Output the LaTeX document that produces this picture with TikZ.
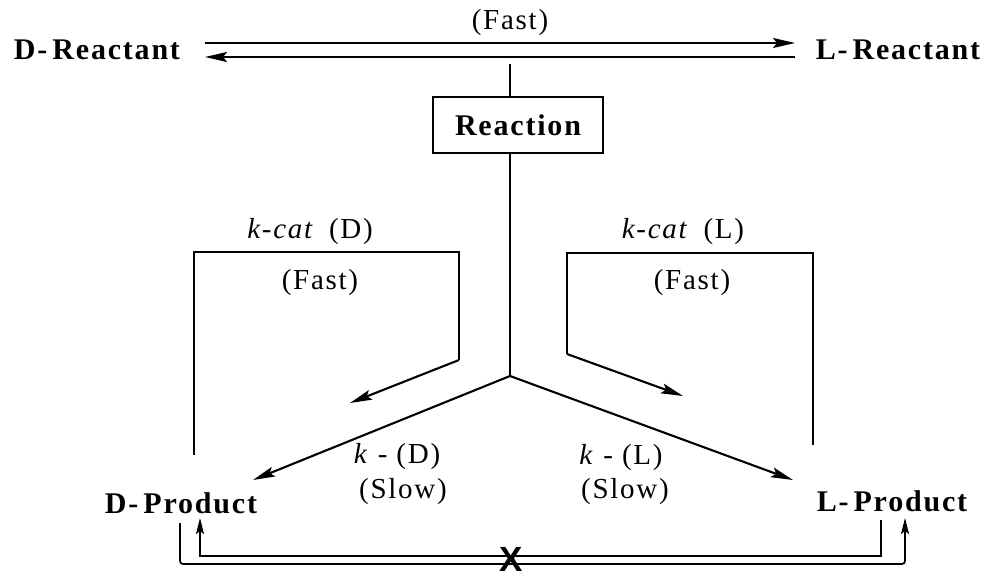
\documentclass[tikz,border=0pt]{standalone}
\usepackage{fontspec}
\setmainfont{Liberation Serif}[LetterSpace=6]
\newfontfamily\crossfont{Liberation Sans}
\usetikzlibrary{arrows.meta}
\begin{document}
\begin{tikzpicture}[x=1pt, y=-1pt,
  species/.style = {font=\fontsize{30}{32}\selectfont\bfseries, inner sep=0pt},
  rate/.style = {font=\fontsize{29}{31}\selectfont, inner sep=0pt},
  flow/.style = {line width=2.1pt, -{Stealth[length=22pt, width=10pt, inset=4pt]}},
  wire/.style = {line width=1.7pt}]
  \useasboundingbox (0,0) rectangle (992,577);
  % species
  \node (dreact) at (97,50) [species] {D-\,Reactant};
  \node (lreact) at (898,50) [species] {L-\,Reactant};
  \node (dprod) at (181,503) [species] {D-\,Product};
  \node (lprod) at (892,501) [species] {L-\,Product};
  \node (react) at (518,125) [draw, wire, species, minimum width=170pt, minimum height=56pt] {Reaction};
  % rate labels
  \node (fasttop) at (510,23) [rate] {(Fast)};
  \node (kcatd) at (310,232) [rate] {\textit{k-cat}\enspace(D)};
  \node (fastd) at (320,283) [rate] {(Fast)};
  \node (kcatl) at (683,232) [rate] {\textit{k-cat}\enspace(L)};
  \node (fastl) at (692,283) [rate] {(Fast)};
  \node (kd) at (397,457) [rate] {\textit{k} - (D)};
  \node (slowd) at (403,492) [rate] {(Slow)};
  \node (kl) at (621,458) [rate] {\textit{k} - (L)};
  \node (slowl) at (625,492) [rate] {(Slow)};
  \node (cross) at (511,559) [font=\crossfont\fontsize{35}{35}\selectfont\bfseries, inner sep=0pt] {X};
  % racemisation
  \coordinate (fwda) at (205,43);
  \coordinate (fwdb) at (795,43);
  \coordinate (bcka) at (795,57);
  \coordinate (bckb) at (205,57);
  \draw[flow] (fwda) -- (fwdb);
  \draw[flow] (bcka) -- (bckb);
  % trunk
  \coordinate (split) at (510,64);
  \coordinate (jn) at (510,376);
  \draw[wire] (split) -- (split |- react.north);
  \draw[wire] (react.south -| jn) -- (jn);
  \coordinate (dtip) at (253,480);
  \coordinate (ltip) at (793,480);
  \draw[flow] (jn) -- (dtip);
  \draw[flow] (jn) -- (ltip);
  % catalysed loops
  \coordinate (dloop) at (194,455);
  \coordinate (dbend) at (459,360);
  \coordinate (dcat) at (350,403);
  \draw[wire] (dloop) |- (dbend |- 0,252) -- (dbend);
  \draw[flow] (dbend) -- (dcat);
  \coordinate (lloop) at (813,445);
  \coordinate (lbend) at (567,354);
  \coordinate (lcat) at (683,396);
  \draw[wire] (lloop) |- (lbend |- 0,253) -- (lbend);
  \draw[flow] (lbend) -- (lcat);
  % blocked interconversion
  \coordinate (dout) at (180,523);
  \coordinate (lin) at (905,518);
  \coordinate (lout) at (881,520);
  \coordinate (din) at (200,518);
  \draw[wire, -{Stealth[length=16pt, width=8pt, inset=3pt]}, rounded corners=3pt] (dout) |- (lin |- 0,564) -- (lin);
  \draw[wire, -{Stealth[length=16pt, width=8pt, inset=3pt]}] (lout) |- (din |- 0,556) -- (din);
\end{tikzpicture}
\end{document}
